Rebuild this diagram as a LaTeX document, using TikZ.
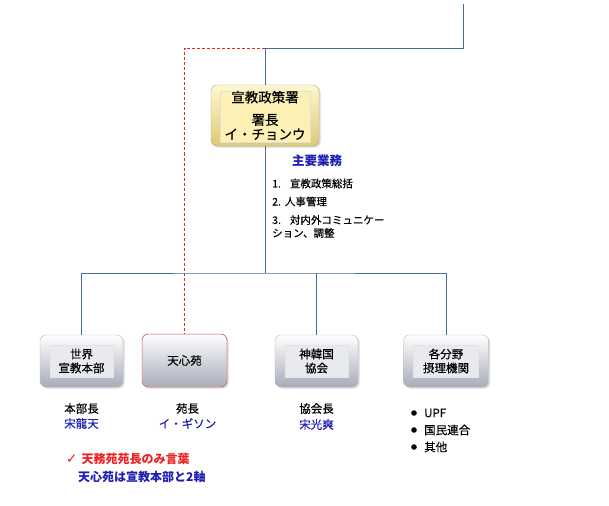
\documentclass[tikz,border=0pt]{standalone}
\usepackage{fontspec}
\setmainfont{Noto Sans CJK JP}[UprightFeatures={FakeBold=0.4}]
\newfontfamily\symfont{DejaVu Sans}
\usetikzlibrary{shadows}
\definecolor{linkblue}{HTML}{4A6A9E}
\definecolor{linkred}{HTML}{E02828}
\definecolor{nameblue}{HTML}{1E1EB4}
\definecolor{notered}{HTML}{F02020}
\tikzset{
	link/.style={line width=0.8pt, color=linkblue},
	redlink/.style={line width=0.8pt, color=linkred, densely dashed},
	orgbox/.style={rounded corners=6pt, draw=gray!55, top color=white, bottom color={rgb,255:red,168;green,172;blue,186},
		drop shadow={opacity=0.3, shadow xshift=1.5pt, shadow yshift=-1.5pt},
		minimum width=83pt, minimum height=52pt, align=center, font=\fontsize{11.5}{14}\selectfont,
		path picture={\draw[sharp corners, draw=black!10, fill={rgb,255:red,232;green,234;blue,240}] ([shift={(10pt,-10pt)}]path picture bounding box.north west) rectangle ([shift={(-10pt,10pt)}]path picture bounding box.south east);}},
	mainbox/.style={orgbox, draw=black!35, top color={rgb,255:red,255;green,248;blue,205}, bottom color={rgb,255:red,222;green,200;blue,115},
		minimum width=108pt, minimum height=61pt, font=\fontsize{13.5}{14.5}\selectfont,
		path picture={\draw[sharp corners, draw=black!12, fill={rgb,255:red,252;green,240;blue,180}] ([shift={(9pt,-6pt)}]path picture bounding box.north west) rectangle ([shift={(-9pt,4pt)}]path picture bounding box.south east);}},
	textlabel/.style={font=\fontsize{11.5}{13}\selectfont},
	nametext/.style={textlabel, color=nameblue},
	duty/.style={anchor=west, inner sep=0pt, font=\fontsize{10.5}{12}\selectfont},
}

\begin{document}
\begin{tikzpicture}[x=1pt, y=-1pt]
		%%%%% START %%%%%
		\useasboundingbox (0, 0) rectangle (609, 505);
		
		\node[mainbox] (office) at (265, 115.5) {宣教政策署\\[8pt]署長\\イ・チョンウ};
		
		\node[orgbox] (world) at (81.5, 361) {世界\\宣教本部};
		\node[orgbox, draw=linkred, fill={rgb,255:red,232;green,238;blue,250}, minimum width=85pt, minimum height=53pt,
			path picture={\draw[draw=black!20, line width=1pt] (path picture bounding box.north west) rectangle (path picture bounding box.south east);}] (tenshin) at (184.5, 360.5) {天心苑};
		\node[orgbox] (korea) at (316.5, 361) {神韓国\\協会};
		\node[orgbox, minimum width=85pt] (various) at (446, 361) {各分野\\摂理機関};
		
		\coordinate (top) at (463, 4);
		\coordinate (corner) at (463, 48);
		\coordinate (bus) at (265, 273);
		
		\draw[link] (top) -- (corner) -| (office.north);
		\draw[redlink] (office.north |- corner) -| (tenshin.north);
		\draw[link] (office.south) -- (bus);
		\draw[link] (world.north) |- (bus) -| (various.north);
		\draw[link] (korea.north) -- (korea.north |- bus);
		
		% duties
		\node[color=nameblue, font=\fontsize{12.5}{14}\selectfont\bfseries] (dutyhead) at (317, 161) {主要業務};
		\node[duty] (duty1) at (272, 183.5) {1.\hspace{9pt}宣教政策総括};
		\node[duty] (duty2) at (272, 201.5) {2.\hspace{4pt}人事管理};
		\node[duty] (duty3) at (272, 220) {3.\hspace{9pt}対内外コミュニケー};
		\node[duty] (duty4) at (272, 233) {ション、調整};
		
		% heads
		\node[textlabel] (worldhead) at (81.5, 408.5) {本部長};
		\node[nametext] (worldname) at (81.5, 423.5) {宋龍天};
		\node[textlabel] (tenshinhead) at (187.5, 408.5) {苑長};
		\node[nametext] (tenshinname) at (187.5, 423.5) {イ・ギソン};
		\node[textlabel] (koreahead) at (316.5, 408.5) {協会長};
		\node[nametext] (koreaname) at (316.5, 424.5) {宋光爽};
		
		\foreach \y/\t [count=\i] in {413/UPF, 430/国民連合, 447/其他} {
			\fill (414, \y) circle (2.8);
			\node[textlabel, anchor=west, inner sep=0pt] (org\i) at (424, \y) {\t};
		}
		
		% notes
		\node[anchor=west, inner sep=0pt, color=notered, font=\fontsize{12}{13}\selectfont\bfseries] (note1) at (66, 458.5) {{\symfont\fontsize{13.5}{14}\selectfont\bfseries ✓}\hspace{4pt}天務苑苑長のみ言葉};
		\node[anchor=west, inner sep=0pt, color=nameblue, font=\fontsize{12}{13}\selectfont\bfseries] (note2) at (78, 477) {天心苑は宣教本部と2軸};
		
		%%%%% END %%%%%
	\end{tikzpicture}
\end{document}
